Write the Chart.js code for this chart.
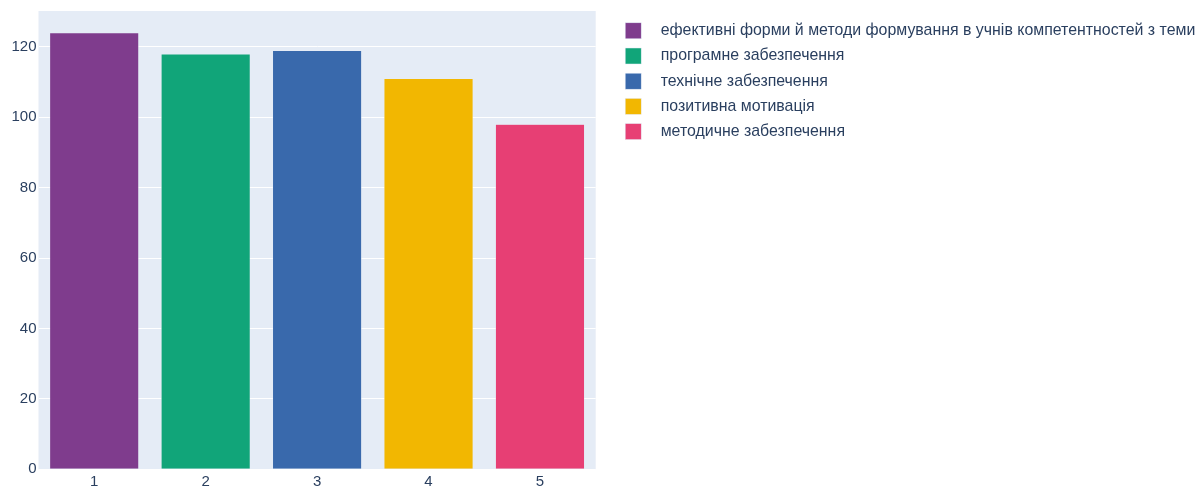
<!DOCTYPE html>
<html>
<head>
<meta charset="utf-8">
<script src="https://cdn.jsdelivr.net/npm/chart.js@4.4.1/dist/chart.umd.min.js"></script>
<style>
  html, body { margin: 0; padding: 0; background: #fff; }
  #wrap { width: 1200px; height: 489px; position: relative; }
</style>
</head>
<body>
<div id="wrap"><canvas id="c"></canvas></div>
<script>
// Categories (x positions) and their counts
const categories = ['1', '2', '3', '4', '5'];
const seriesNames = [
  'ефективні форми й методи формування в учнів компетентностей з теми',
  'програмне забезпечення',
  'технічне забезпечення',
  'позитивна мотивація',
  'методичне забезпечення'
];
const values = [124, 118, 119, 111, 98];
const barColors = ['#7F3C8D', '#11A579', '#3969AC', '#F2B701', '#E73F74'];
const yTicks = [0, 20, 40, 60, 80, 100, 120];

const FONT = '"Liberation Sans", Arial, sans-serif';
const TEXT = '#2a3f5f';
const PLOT_BG = '#E5ECF6';

// Paints the light blue plot background behind the grid
const plotBg = {
  id: 'plotBg',
  beforeDraw(chart) {
    const { ctx, chartArea: a } = chart;
    ctx.save();
    ctx.fillStyle = PLOT_BG;
    ctx.fillRect(a.left, a.top, a.right - a.left, a.bottom - a.top);
    ctx.restore();
  }
};

// Legend column to the right of the plot, one entry per bar
const sideLegend = {
  id: 'sideLegend',
  afterDraw(chart) {
    const { ctx } = chart;
    const colors = chart.data.datasets[0].backgroundColor;
    const x0 = chart.chartArea.right + 29.5;
    const y0 = 30.8;
    const step = 25.2;
    const box = 16;
    ctx.save();
    ctx.font = '15.9px ' + FONT;
    ctx.textBaseline = 'middle';
    ctx.textAlign = 'left';
    seriesNames.forEach((name, i) => {
      const cy = y0 + i * step;
      ctx.fillStyle = colors[i];
      ctx.fillRect(x0, cy - box / 2, box, box);
      ctx.strokeStyle = PLOT_BG;
      ctx.lineWidth = 0.5;
      ctx.strokeRect(x0, cy - box / 2, box, box);
      ctx.fillStyle = TEXT;
      ctx.fillText(name, x0 + 35.5, cy);
    });
    ctx.restore();
  }
};

new Chart(document.getElementById('c'), {
  type: 'bar',
  data: {
    labels: categories,
    datasets: [{
      data: values,
      backgroundColor: barColors,
      borderColor: PLOT_BG,
      borderWidth: 0.5,
      barPercentage: 0.8,
      categoryPercentage: 1.0
    }]
  },
  options: {
    responsive: true,
    maintainAspectRatio: false,
    animation: false,
    layout: { padding: { left: 0, top: 11, right: 604.3, bottom: 0 } },
    plugins: {
      tooltip: { enabled: false },
      legend: { display: false }
    },
    scales: {
      x: {
        grid: { display: false, drawTicks: false },
        border: { display: false },
        afterFit: (s) => { s.height = 19.7; },
        ticks: { font: { family: FONT, size: 15 }, color: TEXT, padding: 4 }
      },
      y: {
        min: 0,
        max: 130.2,
        grid: { color: '#ffffff', lineWidth: 1, drawTicks: false },
        border: { display: false },
        afterFit: (s) => { s.width = 38.5; },
        afterBuildTicks: (axis) => { axis.ticks = yTicks.map(v => ({ value: v })); },
        ticks: { font: { family: FONT, size: 15 }, color: TEXT, padding: 2 }
      }
    }
  },
  plugins: [plotBg, sideLegend]
});
</script>
</body>
</html>
